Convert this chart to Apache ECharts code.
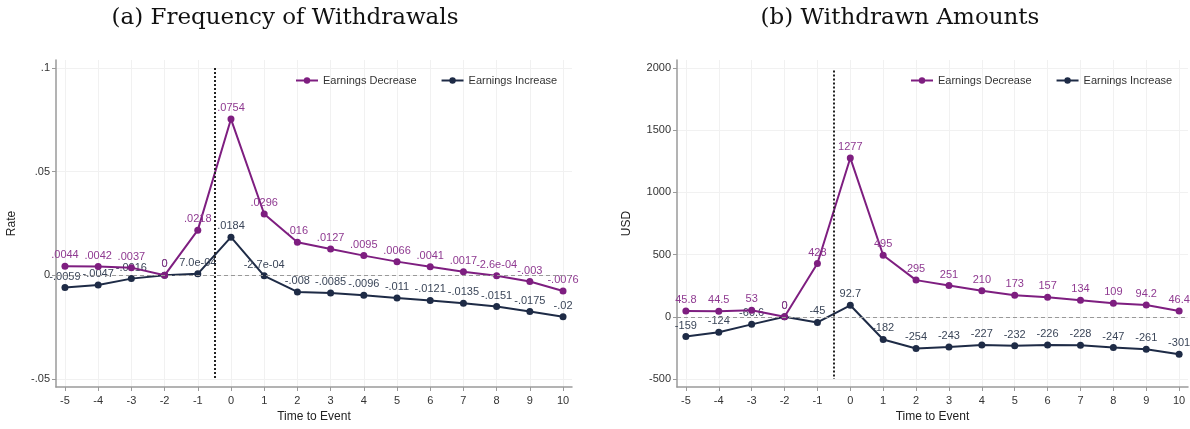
<!DOCTYPE html>
<html>
<head>
<meta charset="utf-8">
<script src="https://cdn.jsdelivr.net/npm/echarts@6/dist/echarts.min.js"></script>
<style>
html,body{margin:0;padding:0;background:#fff}
#main{width:1190px;height:429px}
</style>
</head>
<body>
<div id="main"></div>
<script>
// event time and the two panels' estimates
var timeToEvent = [-5,-4,-3,-2,-1,0,1,2,3,4,5,6,7,8,9,10];
var rateDecrease = [.0044,.0042,.0037,0,.0218,.0754,.0296,.016,.0127,.0095,.0066,.0041,.0017,-.00026,-.003,-.0076];
var rateIncrease = [-.0059,-.0047,-.0016,0,.0007,.0184,-.00027,-.008,-.0085,-.0096,-.011,-.0121,-.0135,-.0151,-.0175,-.02];
var usdDecrease = [45.8,44.5,53,0,428,1277,495,295,251,210,173,157,134,109,94.2,46.4];
var usdIncrease = [-159,-124,-60.6,0,-45,92.7,-182,-254,-243,-227,-232,-226,-228,-247,-261,-301];
var rateTicks = [-0.05,0,0.05,0.1];
var usdTicks = [-500,0,500,1000,1500,2000];
var eventLine = -0.5;

var purple = '#7e1e80';
var navy = '#1e2b46';
var chart = echarts.init(document.getElementById('main'));

function fmtRate(v){
	if (v === 0) return '0';
	if (Math.abs(v) < 0.001) {
		return v.toExponential(1).replace(/e([+-])(\d)$/, 'e$10$2');
	}
	return String(v).replace(/^(-?)0\./, '$1.');
}
function pairs(ys){
	return timeToEvent.map(function(t, i){ return [t, ys[i]]; });
}

function xAxisFor(gi){
	return {
		gridIndex: gi, type: 'value', min: -5.27, max: 10.27,
		name: 'Time to Event', nameLocation: 'middle', nameGap: 24,
		nameTextStyle: {color: '#222', fontSize: 12, fontFamily: 'Liberation Sans'},
		axisLine: {onZero: false, lineStyle: {color: '#9a9a9a', width: 1.5}},
		axisTick: {customValues: timeToEvent, length: 4, lineStyle: {color: '#9a9a9a'}},
		axisLabel: {customValues: timeToEvent, color: '#333', fontSize: 11, fontFamily: 'Liberation Sans', margin: 8},
		splitLine: {show: true, lineStyle: {color: '#f1f1f1'}}
	};
}
function yAxisFor(gi, ticks, mn, mx, name, fmt){
	return {
		gridIndex: gi, type: 'value', min: mn, max: mx,
		name: name, nameLocation: 'middle', nameGap: gi === 0 ? 38 : 44,
		nameTextStyle: {color: '#222', fontSize: 12, fontFamily: 'Liberation Sans'},
		axisLine: {show: true, onZero: false, lineStyle: {color: '#9a9a9a', width: 1.5}},
		axisTick: {show: true, customValues: ticks, length: 4, lineStyle: {color: '#9a9a9a'}},
		axisLabel: {customValues: ticks, color: '#333', fontSize: 11, fontFamily: 'Liberation Sans', margin: 6, formatter: fmt},
		splitLine: {show: true, lineStyle: {color: '#f1f1f1'}}
	};
}

function lineSeries(name, gi, ys, color, labelColor, fmt, z, refLines){
	var s = {
		name: name, type: 'line', xAxisIndex: gi, yAxisIndex: gi,
		data: pairs(ys), z: z,
		symbol: 'circle', symbolSize: 7,
		lineStyle: {color: color, width: 2},
		itemStyle: {color: color},
		label: {show: true, position: 'top', distance: 2, color: labelColor, fontSize: 11,
			fontFamily: 'Liberation Sans', formatter: function(p){ return fmt(p.value[1]); }},
		emphasis: {disabled: true},
		animation: false
	};
	if (refLines) s.markLine = refLines;
	return s;
}

function refLines(top, bottom){
	return {
		silent: true, symbol: 'none', label: {show: false},
		data: [
			{yAxis: 0, lineStyle: {color: '#999', type: [4, 3], width: 1}},
			[{coord: [eventLine, top], lineStyle: {color: '#222', type: [2, 2], width: 2}},
			 {coord: [eventLine, bottom]}]
		]
	};
}

var legendBase = {
	orient: 'horizontal', itemWidth: 22, itemHeight: 8, itemGap: 24,
	textStyle: {color: '#333', fontSize: 11, fontFamily: 'Liberation Sans'},
	data: ['Earnings Decrease', 'Earnings Increase']
};

var titleStyle = {fontFamily: 'DejaVu Serif', fontWeight: 'normal', fontSize: 23, color: '#111'};

var option = {
	backgroundColor: '#fff',
	animation: false,
	title: [
		{text: '(a) Frequency of Withdrawals', left: 280, top: 2, textAlign: 'center', textStyle: titleStyle},
		{text: '(b) Withdrawn Amounts', left: 895, top: 2, textAlign: 'center', textStyle: titleStyle}
	],
	legend: [
		Object.assign({left: 290, top: 70}, legendBase),
		Object.assign({left: 905, top: 70}, legendBase)
	],
	grid: [
		{left: 56, width: 516, top: 60, bottom: 42},
		{left: 677, width: 511, top: 60, bottom: 42}
	],
	xAxis: [xAxisFor(0), xAxisFor(1)],
	yAxis: [
		yAxisFor(0, rateTicks, -0.0539, 0.1039, 'Rate', fmtRate),
		yAxisFor(1, usdTicks, -564, 2064, 'USD', function(v){ return String(v); })
	],
	series: [
		lineSeries('Earnings Increase', 0, rateIncrease, navy, '#3b4659', fmtRate, 3, refLines(0.1, -0.05)),
		lineSeries('Earnings Decrease', 0, rateDecrease, purple, '#8f3a91', fmtRate, 4),
		lineSeries('Earnings Increase', 1, usdIncrease, navy, '#3b4659', function(v){ return String(v); }, 3, refLines(1980, -500)),
		lineSeries('Earnings Decrease', 1, usdDecrease, purple, '#8f3a91', function(v){ return String(v); }, 4)
	]
};
chart.setOption(option);
</script>
</body>
</html>
